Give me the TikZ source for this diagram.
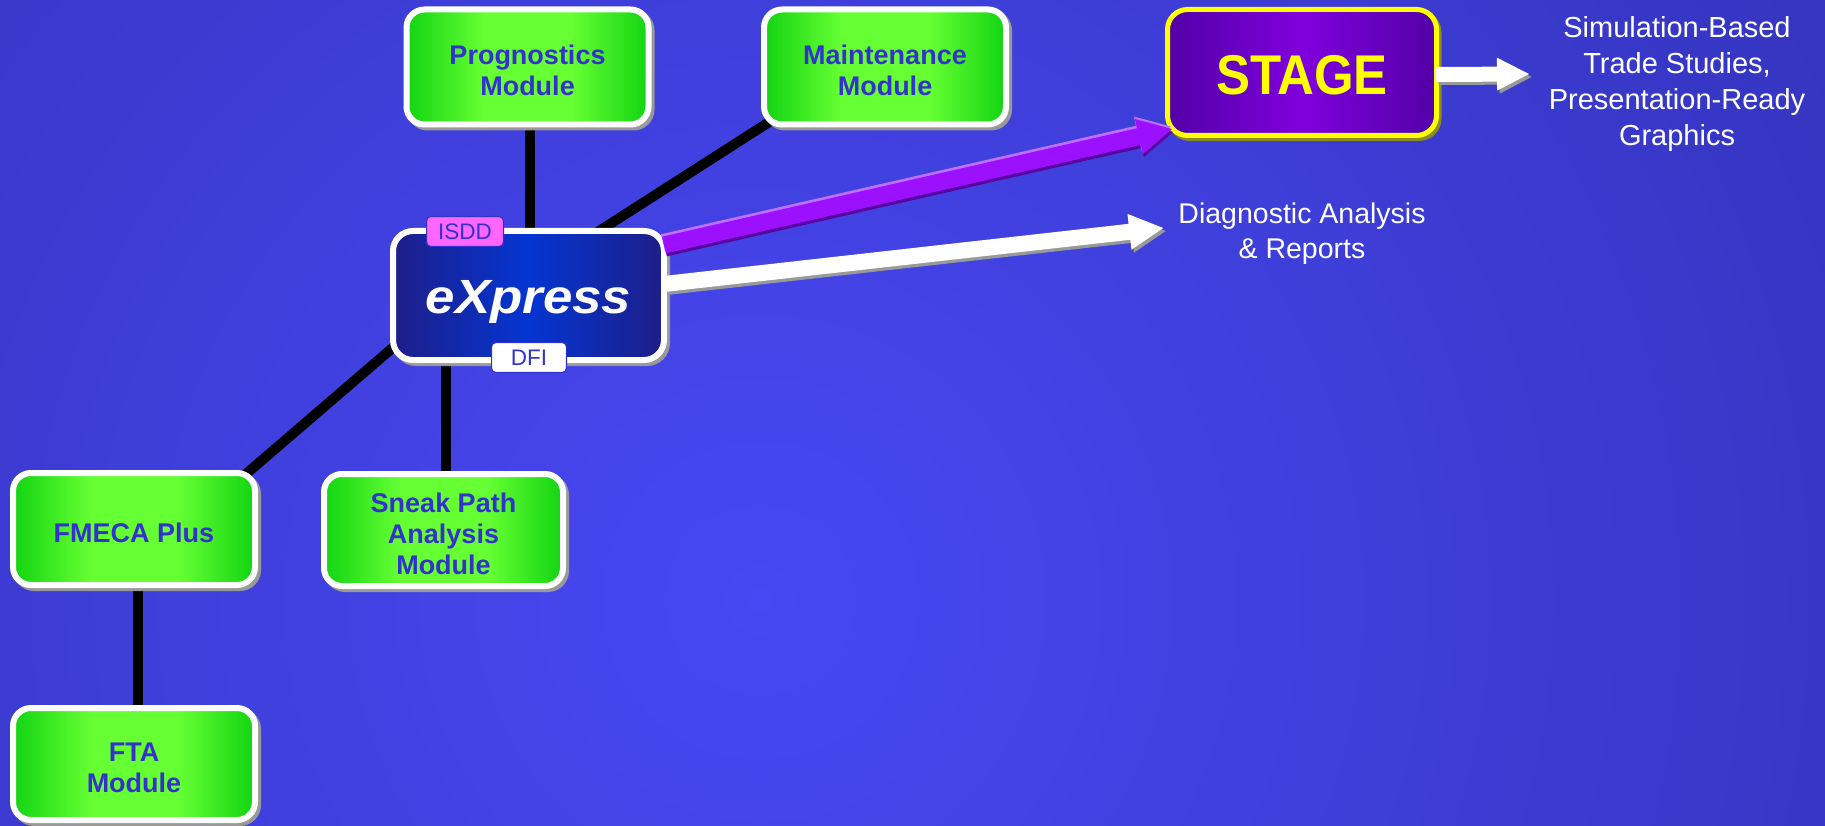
\documentclass[tikz,border=0pt]{standalone}
\usepackage{fontspec}
\setmainfont{Liberation Sans}
\usetikzlibrary{shadows,calc}
\definecolor{bgdark}{HTML}{2E2EAE}
\definecolor{bglight}{HTML}{4848F4}
\definecolor{gdark}{HTML}{12D412}
\definecolor{glight}{HTML}{66FF33}
\definecolor{tblue}{HTML}{3333CC}
\definecolor{navy}{HTML}{1E1E88}
\definecolor{xblue}{HTML}{0535D2}
\definecolor{pdark}{HTML}{5200A8}
\definecolor{plight}{HTML}{8000DC}
\definecolor{shgray}{HTML}{999999}
\definecolor{arrp}{HTML}{9A10FF}
\definecolor{arrpl}{HTML}{C070FF}
\definecolor{arrpd}{HTML}{5A00A0}
\definecolor{isddc}{HTML}{FF66FF}
\definecolor{stageyel}{HTML}{FFFF00}
\definecolor{stagesh}{HTML}{8C8C20}
\definecolor{lineshadow}{HTML}{7A7A7A}

\pgfdeclarehorizontalshading{greensh}{100bp}{color(0bp)=(gdark); color(25bp)=(gdark); color(41bp)=(glight); color(59bp)=(glight); color(75bp)=(gdark); color(100bp)=(gdark)}
\pgfdeclarehorizontalshading{bluesh}{100bp}{color(0bp)=(navy); color(25bp)=(navy); color(50bp)=(xblue); color(75bp)=(navy); color(100bp)=(navy)}
\pgfdeclarehorizontalshading{purplesh}{100bp}{color(0bp)=(pdark); color(25bp)=(pdark); color(50bp)=(plight); color(75bp)=(pdark); color(100bp)=(pdark)}

\pgfdeclarelayer{bgl}
\pgfdeclarelayer{lines}
\pgfsetlayers{bgl,lines,main}

% #1 colour, #2 start, #3 tip, #4 half shaft, #5 half head, #6 head length
\newcommand\blockarrow[6]{%
  \path ($(#3)!#6!(#2)$) coordinate (bah);
  \fill[#1] ($(#2)!#4!90:(#3)$) -- ($(bah)!#4!90:(#3)$) -- ($(bah)!#5!90:(#3)$) -- (#3)
    -- ($(bah)!#5!-90:(#3)$) -- ($(bah)!#4!-90:(#3)$) -- ($(#2)!#4!-90:(#3)$) -- cycle;}
\newcommand\lift{\rule{0pt}{26.5pt}}

\begin{document}
\begin{tikzpicture}[x=1pt,y=-1pt,
  gbox/.style={shade, shading=greensh, draw=white, line width=6pt, rounded corners=18pt,
    text=tblue, font=\fontsize{27}{31}\selectfont\bfseries, align=center, inner sep=0pt,
    minimum width=242pt, minimum height=112pt,
    drop shadow={shadow xshift=3pt, shadow yshift=-3pt, fill=shgray, draw=shgray, opacity=1}},
  xbox/.style={shade, shading=bluesh, draw=white, line width=6pt, rounded corners=20pt,
    text=white, font=\fontsize{48}{50}\selectfont\bfseries\itshape, inner sep=0pt,
    text height=35pt, text depth=0pt,
    minimum width=271pt, minimum height=129pt,
    drop shadow={shadow xshift=3pt, shadow yshift=-3pt, fill=shgray, draw=shgray, opacity=1}},
  sbox/.style={shade, shading=purplesh, draw=stageyel, line width=5pt, rounded corners=20pt,
    text=stageyel, font=\fontsize{56}{58}\selectfont\bfseries, inner sep=0pt,
    text height=45pt, text depth=0pt,
    minimum width=269pt, minimum height=126pt,
    drop shadow={shadow xshift=2.5pt, shadow yshift=-3pt, fill=stagesh, draw=stagesh, opacity=1}},
  tag/.style={draw=tblue, line width=1.2pt, rounded corners=4pt, inner sep=0pt, text=tblue,
    font=\fontsize{22.5}{24}\selectfont},
  wtext/.style={text=white, align=center, inner sep=0pt},
  conn/.style={line width=10pt, draw=black,
    preaction={draw=lineshadow, transform canvas={shift={(-3pt,3pt)}}}}
]
\useasboundingbox (0,0) rectangle (1825,826);
\begin{pgfonlayer}{bgl}
  \clip (0,0) rectangle (1825,826);
  \fill[bgdark] (0,0) rectangle (1825,826);
  \shade[inner color=bglight, outer color=bgdark] (760,600) circle[radius=1650pt];
\end{pgfonlayer}

% boxes
\node[gbox, minimum height=115pt] (prog) at (527.5,67) {\lift Prognostics\\Module};
\node[gbox, minimum height=115pt] (maint) at (885,67) {\lift Maintenance\\Module};
\node[xbox] (express) at (528.5,295.5) {\scalebox{1.1}[1]{eXpress}};
\node[sbox] (stage) at (1302,72.5) {\scalebox{0.91}[1]{STAGE}};
\node[gbox] (fmeca) at (134,529) {\lift FMECA Plus};
\node[gbox, minimum width=239pt] (sneak) at (443.5,530) {\lift Sneak Path\\Analysis\\Module};
\node[gbox] (fta) at (134,764) {\lift FTA\\Module};
\node[tag, fill=isddc, minimum width=76.8pt, minimum height=29.8pt] (isdd) at (465,231.5) {ISDD};
\node[tag, fill=white, minimum width=74.8pt, minimum height=29.8pt] (dfi) at (529,357.5) {DFI};

% texts
\node[wtext, font=\fontsize{28.5}{35}\selectfont] (diag) at (1302,234) {Diagnostic Analysis\\\& Reports};
\node[wtext, font=\fontsize{29}{36}\selectfont] (sim) at (1677,84) {Simulation-Based\\Trade Studies,\\Presentation-Ready\\Graphics};

% connecting lines
\begin{pgfonlayer}{lines}
  \draw[conn] ($(prog.center)+(2.5,0)$) -- ($(express.center)+(1.5,0)$);
  \draw[conn] ($(express.center)+(-30,0)$) -- ($(maint.center)+(-30,0)$);
  \draw[conn] ($(express.center)+(-75,0)$) -- ($(fmeca.center)+(48,0)$);
  \draw[conn] ($(sneak.center)+(2.5,0)$) -- ($(express.center)+(-82.5,0)$);
  \draw[conn] ($(fmeca.center)+(4,0)$) -- ($(fta.center)+(4,0)$);
\end{pgfonlayer}

% arrows
\coordinate (pa) at ($(express.east)+(-3,-50.5)$);
\coordinate (pb) at ($(stage.south west)+(7,-9)$);
\coordinate (wa) at ($(express.east)+(-3,-11.5)$);
\coordinate (wb) at ($(diag.west)+(-15,-6)$);
\coordinate (sa) at ($(stage.east)+(-3,2)$);
\coordinate (sb) at ($(stage.east)+(90,1.5)$);

\begin{scope}[transform canvas={shift={(1pt,-3pt)}}]
  \blockarrow{arrpd}{pa}{pb}{8.5pt}{18pt}{34pt}
\end{scope}
\begin{scope}[transform canvas={shift={(-1pt,2.5pt)}}]
  \blockarrow{arrpl}{pa}{pb}{8.5pt}{18pt}{34pt}
\end{scope}
\blockarrow{arrp}{pa}{pb}{8.5pt}{18pt}{34pt}

\begin{scope}[transform canvas={shift={(2.5pt,-3pt)}}]
  \blockarrow{shgray}{wa}{wb}{8pt}{18pt}{34pt}
\end{scope}
\blockarrow{white}{wa}{wb}{8pt}{18pt}{34pt}

\begin{scope}[transform canvas={shift={(2.5pt,-3pt)}}]
  \blockarrow{shgray}{sa}{sb}{7.5pt}{16.5pt}{32pt}
\end{scope}
\blockarrow{white}{sa}{sb}{7.5pt}{16.5pt}{32pt}
\end{tikzpicture}
\end{document}
